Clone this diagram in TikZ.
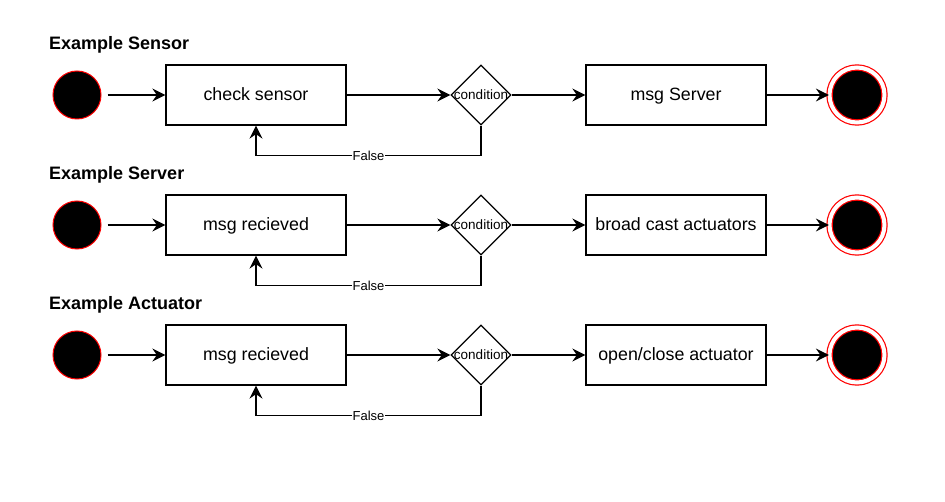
\documentclass[tikz,border=0pt]{standalone}
\usepackage{fontspec}
\setmainfont{Liberation Sans}
\usepackage{tikz}
\usetikzlibrary{shapes.geometric,arrows.meta}

\tikzset{
    initstate/.style={circle, draw=red, fill=black, line width=1pt, minimum size=48pt, inner sep=0pt},
    finalstate/.style={circle, draw=red, fill=black, line width=1.2pt, double=white, double distance=4pt, minimum size=55pt, inner sep=0pt},
    action/.style={rectangle, draw, line width=1.3pt, minimum width=180pt, minimum height=60pt, text height=14pt, text depth=2.6pt, font=\fontsize{17.8}{20}\selectfont},
    decision/.style={diamond, draw, line width=1.3pt, minimum width=60pt, minimum height=60pt, inner sep=0pt, label={[font=\fontsize{13.5}{15}\selectfont, inner sep=0pt]center:condition}},
    rowtitle/.style={anchor=base west, inner sep=0pt, font=\fontsize{18}{20}\selectfont\bfseries},
    guard/.style={fill=white, inner sep=0.5pt, font=\fontsize{13}{15}\selectfont},
    flow/.style={line width=1.3pt, -{Stealth[length=13pt, width=13pt, inset=4.5pt]}}
}

\begin{document}
\begin{tikzpicture}[x=1pt, y=-1pt]
    \useasboundingbox (0,0) rectangle (945,502);

    % Sensor
    \node[rowtitle] (sensorTitle) at (49,49.5) {Example Sensor};
    \node[initstate] (sensorStart) at (77,95) {};
    \node[action] (sensorCheck) at (256,95) {check sensor};
    \node[decision] (sensorCond) at (481,95) {};
    \node[action] (sensorMsg) at (676,95) {msg Server};
    \node[finalstate] (sensorEnd) at (857,95) {};
    \draw[flow, shorten <=6pt] (sensorStart) -- (sensorCheck);
    \draw[flow] (sensorCheck) -- (sensorCond);
    \draw[flow] (sensorCond) -- (sensorMsg);
    \draw[flow] (sensorMsg) -- (sensorEnd);
    \draw[flow] (sensorCond.south) -- ++(0,30) -| node[guard, pos=0.25] {False} (sensorCheck.south);

    % Server
    \node[rowtitle] (serverTitle) at (49,179.5) {Example Server};
    \node[initstate] (serverStart) at (77,225) {};
    \node[action] (serverRecv) at (256,225) {msg recieved};
    \node[decision] (serverCond) at (481,225) {};
    \node[action] (serverCast) at (676,225) {broad cast actuators};
    \node[finalstate] (serverEnd) at (857,225) {};
    \draw[flow, shorten <=6pt] (serverStart) -- (serverRecv);
    \draw[flow] (serverRecv) -- (serverCond);
    \draw[flow] (serverCond) -- (serverCast);
    \draw[flow] (serverCast) -- (serverEnd);
    \draw[flow] (serverCond.south) -- ++(0,30) -| node[guard, pos=0.25] {False} (serverRecv.south);

    % Actuator
    \node[rowtitle] (actuatorTitle) at (49,309.5) {Example Actuator};
    \node[initstate] (actuatorStart) at (77,355) {};
    \node[action] (actuatorRecv) at (256,355) {msg recieved};
    \node[decision] (actuatorCond) at (481,355) {};
    \node[action] (actuatorOpen) at (676,355) {open/close actuator};
    \node[finalstate] (actuatorEnd) at (857,355) {};
    \draw[flow, shorten <=6pt] (actuatorStart) -- (actuatorRecv);
    \draw[flow] (actuatorRecv) -- (actuatorCond);
    \draw[flow] (actuatorCond) -- (actuatorOpen);
    \draw[flow] (actuatorOpen) -- (actuatorEnd);
    \draw[flow] (actuatorCond.south) -- ++(0,30) -| node[guard, pos=0.25] {False} (actuatorRecv.south);
\end{tikzpicture}
\end{document}
